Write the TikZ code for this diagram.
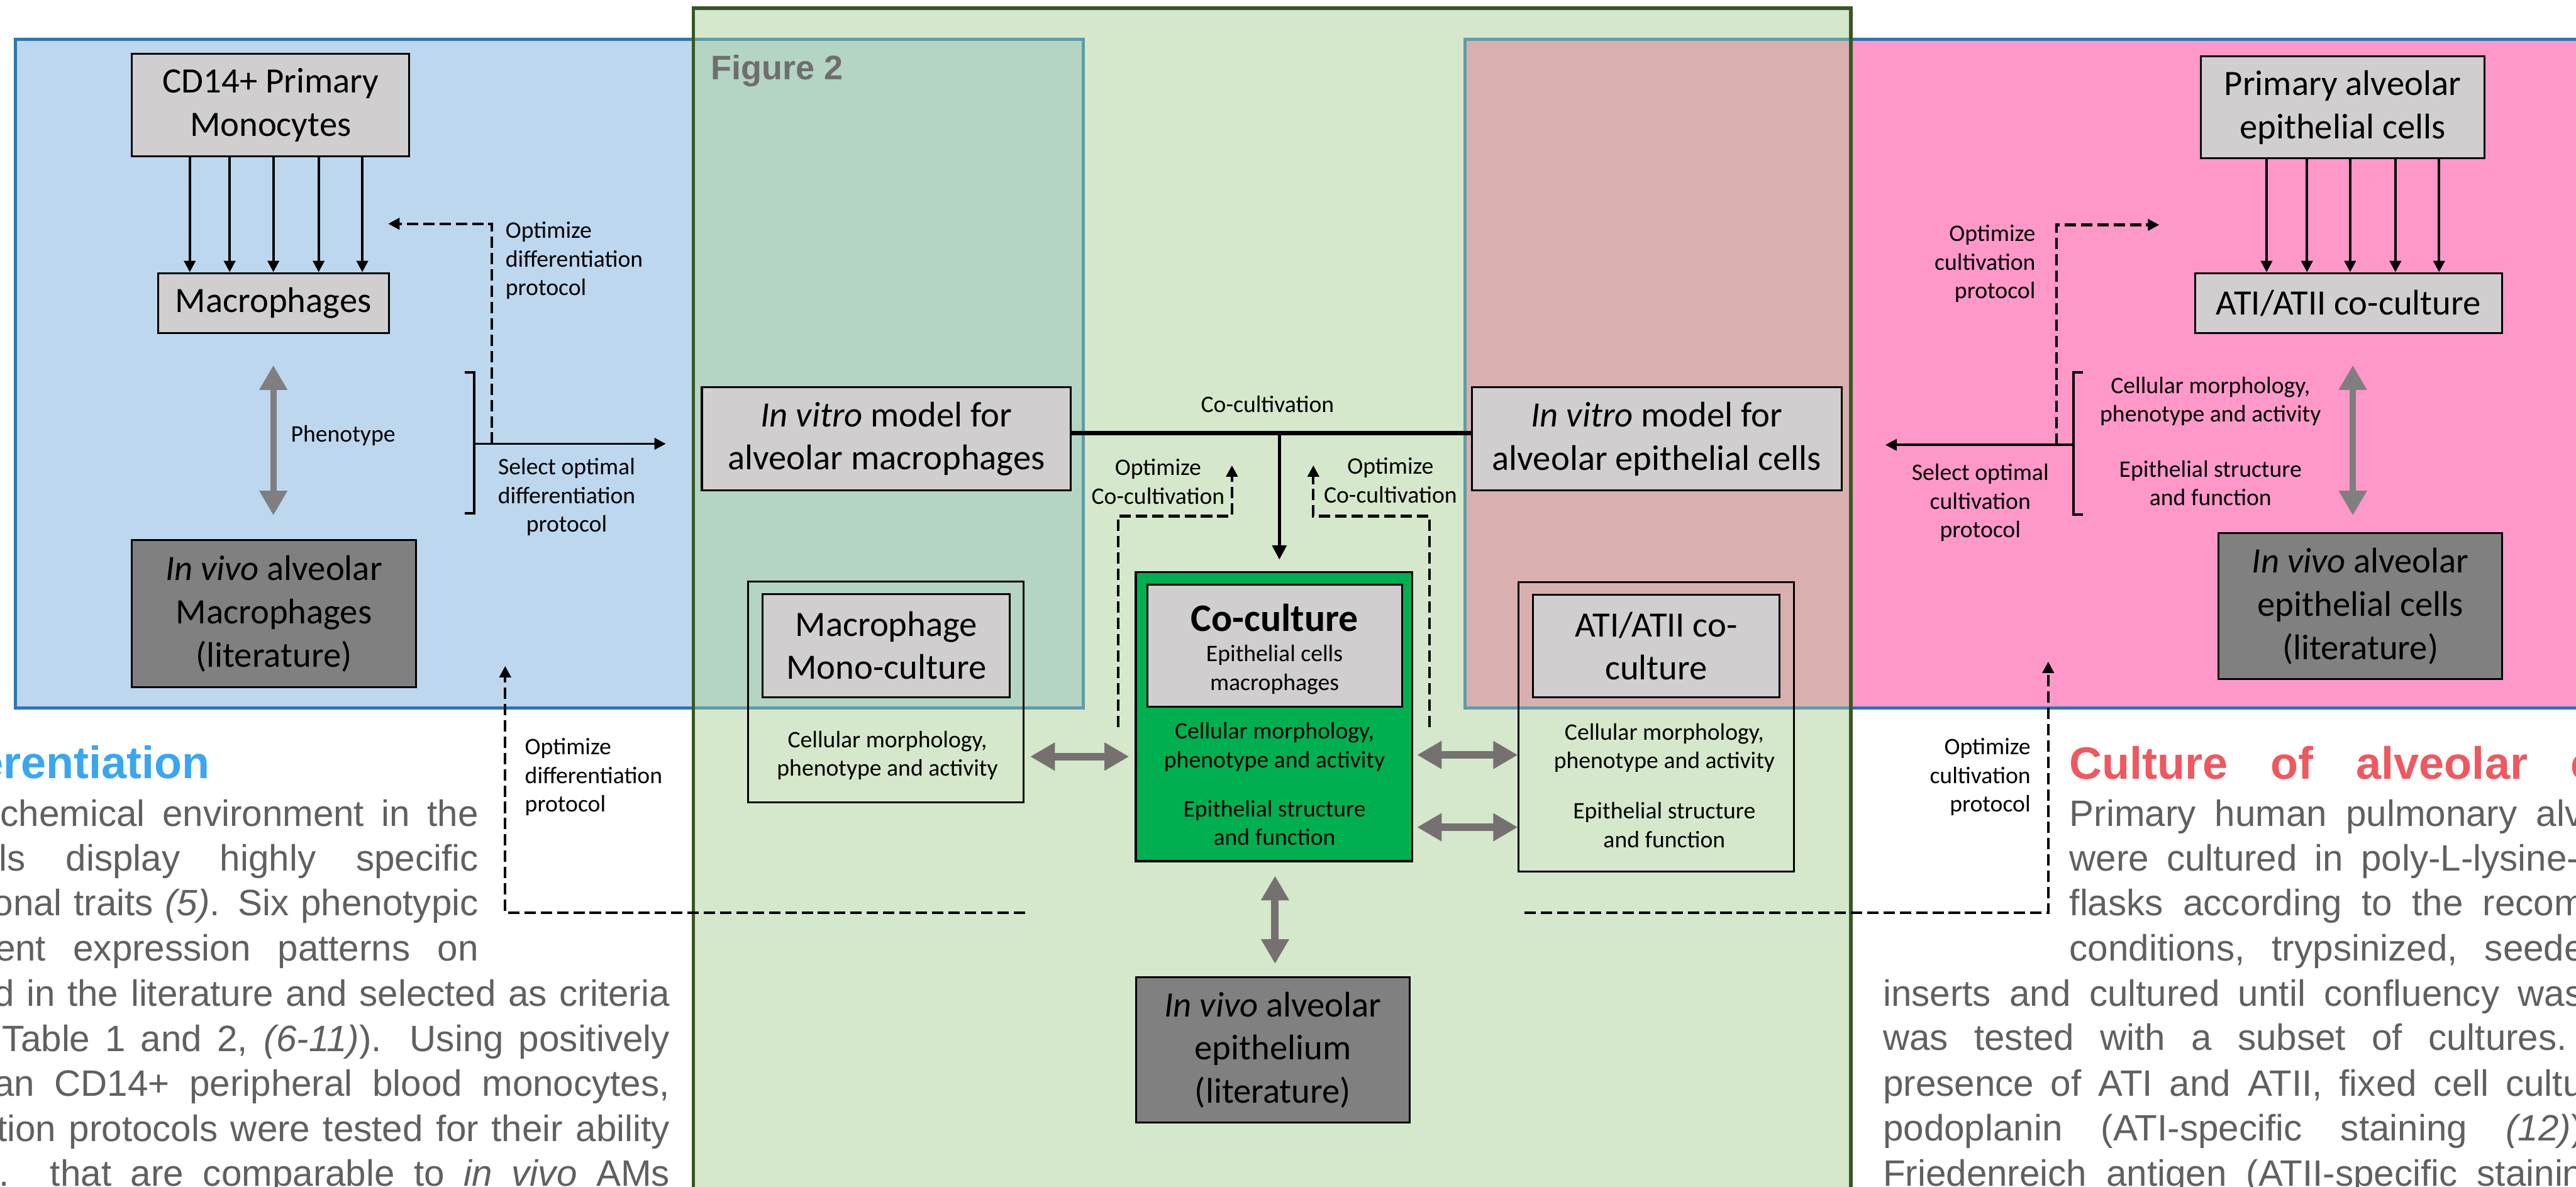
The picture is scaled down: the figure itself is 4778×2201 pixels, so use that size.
\documentclass[tikz,border=0pt]{standalone}
\usepackage{fontspec}
\setmainfont{Carlito}
\newfontfamily\arialf{Liberation Sans}
\usetikzlibrary{arrows.meta}
\definecolor{bluefill}{RGB}{189,215,238}
\definecolor{blueline}{RGB}{46,117,182}
\definecolor{greenfill}{RGB}{214,232,203}
\definecolor{greenline}{RGB}{56,87,35}
\definecolor{tealfill}{RGB}{180,212,196}
\definecolor{tealline}{RGB}{95,157,166}
\definecolor{pinkfill}{RGB}{254,152,201}
\definecolor{rosefill}{RGB}{217,176,175}
\definecolor{boxgray}{RGB}{208,206,206}
\definecolor{litgray}{RGB}{128,128,128}
\definecolor{cogreen}{RGB}{0,176,80}
\definecolor{arrgrayA}{RGB}{127,127,127}
\definecolor{arrgrayB}{RGB}{118,113,113}
\definecolor{txtgray}{RGB}{96,96,96}
\definecolor{headblue}{RGB}{58,166,242}
\definecolor{headred}{RGB}{239,88,95}
\definecolor{figgray}{RGB}{110,110,110}
\newcommand\fbig{\fontsize{18.8pt}{22.8pt}\selectfont}
\newcommand\fsm{\fontsize{12.5pt}{15.1pt}\selectfont}
\newcommand\fco{\fontsize{20.5pt}{24pt}\selectfont\bfseries}
\newcommand\fbody{\arialf\fontsize{19.35pt}{23.9pt}\selectfont}
\newcommand\fhead{\arialf\bfseries\fontsize{23.9pt}{28pt}\selectfont}
\newcommand\ffig{\arialf\bfseries\fontsize{17.9pt}{21pt}\selectfont}
\tikzset{
  gbox/.style={draw=black, line width=1pt, fill=boxgray, inner sep=0pt, align=center, font=\fbig},
  litbox/.style={gbox, fill=litgray},
  outbox/.style={draw=black, line width=0.9pt, inner sep=0pt},
  lbl/.style={inner sep=0pt, align=center, font=\fsm},
  arrtip/.style={-{Triangle[length=6pt,width=6pt]}},
  thinarr/.style={arrtip, line width=1.3pt},
  dasharr/.style={arrtip, line width=1.4pt, dash pattern=on 6pt off 2.6pt},
  grayarr/.style={{Triangle[length=13pt,width=14pt]}-{Triangle[length=13pt,width=14pt]}, line width=4pt, draw=arrgrayB},
  bodytxt/.style={inner sep=0pt, text=txtgray, font=\fbody},
}
\begin{document}
\begin{tikzpicture}[x=0.01cm, y=-0.01cm]
\useasboundingbox (0,0) rectangle (4778,2201);
\clip (0,0) rectangle (4778,2201);
% ---------- panels ----------
\fill[white] (0,0) rectangle (4778,2201);
\draw[fill=bluefill, draw=blueline, line width=1.6pt] (29,73) rectangle (2009,1313);
\draw[fill=pinkfill, draw=blueline, line width=1.6pt] (2717,73) rectangle (4900,1313);
\fill[greenfill] (1286,15) rectangle (3433,2300);
\draw[fill=tealfill, draw=tealline, line width=1.6pt] (1286,73) rectangle (2009,1313);
\draw[fill=rosefill, draw=tealline, line width=1.6pt] (2717,73) rectangle (3433,1313);
\draw[greenline, line width=1.8pt] (1286,2300) -- (1286,15) -- (3433,15) -- (3433,2300);
% ---------- background text ----------
\node[inner sep=0, anchor=base east, text=headblue, font=\fhead] (hl) at (390,1444) {erentiation};
\node[inner sep=0, anchor=base west, text=headred, font=\fhead] (hr) at (3838,1445) {\makebox[9.75cm][s]{Culture of alveolar e}};
\node[bodytxt, anchor=base east] (tl1) at (888,1532) {\makebox[8.86cm][s]{chemical environment in the}};
\node[bodytxt, anchor=base east] (tl2) at (888,1615) {\makebox[8.88cm][s]{ls display highly specific}};
\node[bodytxt, anchor=base east] (tl3) at (888,1698) {\makebox[9.00cm][s]{onal traits \textit{(5)}. Six phenotypic}};
\node[bodytxt, anchor=base east] (tl4) at (888,1782) {\makebox[8.96cm][s]{ent expression patterns on}};
\node[bodytxt, anchor=base east] (tl5) at (1243,1866) {\makebox[12.53cm][s]{d in the literature and selected as criteria}};
\node[bodytxt, anchor=base east] (tl6) at (1243,1950) {\makebox[12.37cm][s]{Table 1 and 2, \textit{(6-11)}). Using positively}};
\node[bodytxt, anchor=base east] (tl7) at (1243,2033) {\makebox[12.53cm][s]{an CD14+ peripheral blood monocytes,}};
\node[bodytxt, anchor=base east] (tl8) at (1243,2117) {\makebox[12.47cm][s]{tion protocols were tested for their ability}};
\node[bodytxt, anchor=base east] (tl9) at (1243,2200) {\makebox[12.43cm][s]{. that are comparable to \textit{in vivo} AMs}};
\node[bodytxt, anchor=base west] (tr1) at (3838,1532) {\makebox[9.52cm][s]{Primary human pulmonary alv}};
\node[bodytxt, anchor=base west] (tr2) at (3838,1615) {\makebox[9.45cm][s]{were cultured in poly-L-lysine-}};
\node[bodytxt, anchor=base west] (tr3) at (3838,1698) {\makebox[9.55cm][s]{flasks according to the recom}};
\node[bodytxt, anchor=base west] (tr4) at (3838,1782) {\makebox[9.55cm][s]{conditions, trypsinized, seede}};
\node[bodytxt, anchor=base west] (tr5) at (3492,1866) {\makebox[12.98cm][s]{inserts and cultured until confluency was}};
\node[bodytxt, anchor=base west] (tr6) at (3492,1948) {\makebox[12.68cm][s]{was tested with a subset of cultures.}};
\node[bodytxt, anchor=base west] (tr7) at (3492,2033) {\makebox[12.98cm][s]{presence of ATI and ATII, fixed cell cultu}};
\node[bodytxt, anchor=base west] (tr8) at (3492,2115) {\makebox[12.98cm][s]{podoplanin (ATI-specific staining \textit{(12)})}};
\node[bodytxt, anchor=base west] (tr9) at (3492,2200) {\makebox[12.98cm][s]{Friedenreich antigen (ATII-specific stainin}};
% ---------- left panel ----------
\node[gbox, minimum width=5.14cm, minimum height=1.90cm] (mono) at (502,195) {CD14+ Primary\\Monocytes};
\node[gbox, minimum width=4.28cm, minimum height=1.11cm] (mac) at (507,562) {Macrophages};
\node[litbox, minimum width=5.26cm, minimum height=2.73cm] (ivam) at (508,1138) {\textit{In vivo} alveolar\\Macrophages\\(literature)};
\foreach \x in {352,426,507,591,672} \draw[thinarr] (mono.south -| \x,0) -- (mac.north -| \x,0);
\draw[grayarr, draw=arrgrayA, line width=3.4pt, shorten <=16.5pt, shorten >=12.5pt] (mac.south) -- (mac.south |- ivam.north);
\node[lbl, anchor=west] (phen) at (539,808) {Phenotype};
\draw[line width=1.3pt] (862,691) -- (879,691) -- (879,952) -- (862,952);
\coordinate (brl) at (879,823);
\coordinate (sell) at (1235,823);
\draw[thinarr] (brl) -- (sell);
\coordinate (dl0) at (912,823);
\coordinate (dl1) at (912,415);
\coordinate (optl) at (720,415);
\draw[dasharr] (dl0) -- (dl1) -- (optl);
\node[lbl, anchor=west, align=left] (optdiff) at (937,483) {Optimize\\differentiation\\protocol};
\node[lbl] (seldiff) at (1051,922) {Select optimal\\differentiation\\protocol};
\coordinate (bl1) at (1901,1693);
\coordinate (bl2) at (937,1693);
\coordinate (bltip) at (937,1235);
\draw[dasharr] (bl1) -- (bl2) -- (bltip);
\node[lbl, anchor=west, align=left] (optdiff2) at (973,1441) {Optimize\\differentiation\\protocol};
% ---------- central panel ----------
\node[anchor=base west, inner sep=0, text=figgray, font=\ffig] (fig) at (1318,147) {Figure 2};
\node[gbox, minimum width=6.84cm, minimum height=1.91cm] (ivm) at (1644,814) {\textit{In vitro} model for\\alveolar macrophages};
\node[gbox, minimum width=6.85cm, minimum height=1.91cm] (ive) at (3073,814) {\textit{In vitro} model for\\alveolar epithelial cells};
\coordinate (cc) at (2373,803);
\draw[line width=2.3pt] (ivm.east |- cc) -- (ive.west |- cc);
\node[lbl] (cocl) at (2351,750) {Co-cultivation};
\node[draw=black, line width=1.2pt, fill=cogreen, minimum width=5.12cm, minimum height=5.36cm, inner sep=0] (coc) at (2363,1329) {};
\draw[line width=1.6pt, -{Triangle[length=7.5pt,width=7.5pt]}, shorten >=6pt] (cc) -- (cc |- coc.north);
\node[gbox, minimum width=4.72cm, minimum height=2.26cm] (cocin) at (2364,1197) {};
\node[inner sep=0, font=\fco] (coct) at (2364,1145) {Co-culture};
\node[lbl] (cocs) at (2364,1242) {Epithelial cells\\macrophages};
\node[lbl] (coc1) at (2364,1385) {Cellular morphology,\\phenotype and activity};
\node[lbl] (coc2) at (2364,1526) {Epithelial structure\\and function};
\coordinate (dc1) at (2074,1348); \coordinate (dc2) at (2074,957); \coordinate (dc3) at (2285,957); \coordinate (dc4) at (2285,863);
\draw[dasharr] (dc1) -- (dc2) -- (dc3) -- (dc4);
\coordinate (dd1) at (2651,1348); \coordinate (dd2) at (2651,957); \coordinate (dd3) at (2436,957); \coordinate (dd4) at (2436,863);
\draw[dasharr] (dd1) -- (dd2) -- (dd3) -- (dd4);
\node[lbl] (optc1) at (2148,893) {Optimize\\Co-cultivation};
\node[lbl] (optc2) at (2579,891) {Optimize\\Co-cultivation};
\node[outbox, minimum width=5.11cm, minimum height=4.09cm] (mco) at (1643,1283) {};
\node[gbox, minimum width=4.58cm, minimum height=1.91cm] (mci) at (1644,1197) {Macrophage\\Mono-culture};
\node[lbl] (mct) at (1646,1401) {Cellular morphology,\\phenotype and activity};
\draw[grayarr, shorten <=3pt, shorten >=3pt] (mco.east |- 0,1403) -- (coc.west |- 0,1403);
\node[outbox, minimum width=5.10cm, minimum height=5.36cm] (ato) at (3072,1348) {};
\node[gbox, minimum width=4.56cm, minimum height=1.90cm] (ati) at (3072,1198) {ATI/ATII co-\\culture};
\node[lbl] (att1) at (3087,1387) {Cellular morphology,\\phenotype and activity};
\node[lbl] (att2) at (3087,1530) {Epithelial structure\\and function};
\draw[grayarr, shorten <=2pt] (coc.east |- 0,1400) -- (ato.west |- 0,1400);
\draw[grayarr, shorten <=2pt] (coc.east |- 0,1534) -- (ato.west |- 0,1534);
\node[litbox, minimum width=5.08cm, minimum height=2.70cm] (ivep) at (2361,1947) {\textit{In vivo} alveolar\\epithelium\\(literature)};
\draw[grayarr, shorten <=7pt, shorten >=6.5pt] (coc.south -| 2365,0) -- (ivep.north -| 2365,0);
\coordinate (dr1) at (2828,1693); \coordinate (dr2) at (3799,1693); \coordinate (dr3) at (3799,1227);
\draw[dasharr] (dr1) -- (dr2) -- (dr3);
\node[lbl, anchor=east, align=right] (optcult2) at (3767,1441) {Optimize\\cultivation\\protocol};
% ---------- right panel ----------
\node[gbox, minimum width=5.25cm, minimum height=1.89cm] (pae) at (4345,199) {Primary alveolar\\epithelial cells};
\node[gbox, minimum width=5.69cm, minimum height=1.11cm] (atic) at (4356,562) {ATI/ATII co-culture};
\foreach \x in {4204,4279,4359,4443,4524} \draw[thinarr] (pae.south -| \x,0) -- (atic.north -| \x,0);
\node[litbox, minimum width=5.25cm, minimum height=2.71cm] (ivc) at (4378,1124) {\textit{In vivo} alveolar\\epithelial cells\\(literature)};
\draw[grayarr, draw=arrgrayA, line width=3.4pt, shorten <=16.5pt, shorten >=8.8pt] (atic.south -| 4364,0) -- (ivc.north -| 4364,0);
\draw[line width=1.3pt] (3863,691) -- (3846,691) -- (3846,954) -- (3863,954);
\coordinate (brr) at (3846,825);
\coordinate (selr) at (3497,825);
\draw[thinarr] (brr) -- (selr);
\coordinate (dq0) at (3814,825); \coordinate (dq1) at (3814,417); \coordinate (dq2) at (4005,417);
\draw[dasharr] (dq0) -- (dq1) -- (dq2);
\node[lbl, anchor=east, align=right] (optcult) at (3776,489) {Optimize\\cultivation\\protocol};
\node[lbl] (rt1) at (4100,744) {Cellular morphology,\\phenotype and activity};
\node[lbl] (rt2) at (4100,896) {Epithelial structure\\and function};
\node[lbl] (selcult) at (3673,932) {Select optimal\\cultivation\\protocol};
\end{tikzpicture}
\end{document}
